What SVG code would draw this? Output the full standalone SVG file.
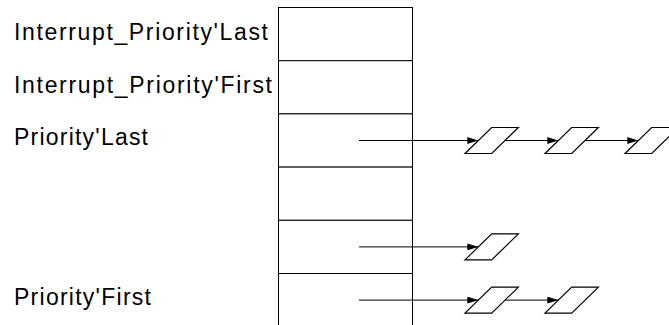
<svg xmlns="http://www.w3.org/2000/svg" width="669" height="325" viewBox="0 0 669 325">
  <style>
    .lbl { font-family: "Liberation Sans", Arial, sans-serif; font-size: 23px; fill: #000; }
    .cell { fill: #fff; stroke: #000; stroke-width: 1; }
    .node { fill: #fff; stroke: #000; stroke-width: 1.2; }
    .link { fill: none; stroke: #000; stroke-width: 1; marker-end: url(#head); }
  </style>
  <defs>
    <marker id="head" viewBox="0 0 11 7" refX="11" refY="3.5" markerWidth="11" markerHeight="7" markerUnits="userSpaceOnUse" orient="auto">
      <path d="M0,0 L11,3.5 L0,7 Z" fill="#000"/>
    </marker>
    <polygon id="elem" points="-26.7,13 0,13 26.7,-13 0,-13"/>
  </defs>

  <rect width="669" height="325" fill="#fff"/>

  <!-- priority table: six slots, bottom one runs off the page -->
  <g id="table">
    <rect class="cell" x="278.5" y="7.5" width="134" height="53.2"/>
    <rect class="cell" x="278.5" y="60.7" width="134" height="53.2"/>
    <rect class="cell" x="278.5" y="113.9" width="134" height="53.2"/>
    <rect class="cell" x="278.5" y="167.1" width="134" height="53.2"/>
    <rect class="cell" x="278.5" y="220.3" width="134" height="53.2"/>
    <rect class="cell" x="278.5" y="273.5" width="134" height="60"/>
  </g>

  <!-- slot labels -->
  <g id="labels">
    <text class="lbl" x="14" y="40" textLength="254" lengthAdjust="spacing">Interrupt_Priority'Last</text>
    <text class="lbl" x="14" y="93.3" textLength="258" lengthAdjust="spacing">Interrupt_Priority'First</text>
    <text class="lbl" x="14" y="145" textLength="134" lengthAdjust="spacing">Priority'Last</text>
    <text class="lbl" x="14" y="305" textLength="137" lengthAdjust="spacing">Priority'First</text>
  </g>

  <!-- queued elements -->
  <g id="q-last-1"><use href="#elem" class="node" x="491.7" y="140.5"/></g>
  <g id="q-last-2"><use href="#elem" class="node" x="571.7" y="140.5"/></g>
  <g id="q-last-3"><use href="#elem" class="node" x="651.7" y="140.5"/></g>
  <g id="q-mid-1"><use href="#elem" class="node" x="491.7" y="246.9"/></g>
  <g id="q-first-1"><use href="#elem" class="node" x="491.7" y="300.1"/></g>
  <g id="q-first-2"><use href="#elem" class="node" x="571.7" y="300.1"/></g>

  <!-- links -->
  <g id="connectors">
    <line class="link" x1="359" y1="140.5" x2="478.3" y2="140.5"/>
    <line class="link" x1="505" y1="140.5" x2="558.3" y2="140.5"/>
    <line class="link" x1="585" y1="140.5" x2="638.3" y2="140.5"/>
    <line class="link" x1="359" y1="246.9" x2="478.3" y2="246.9"/>
    <line class="link" x1="359" y1="300.1" x2="478.3" y2="300.1"/>
    <line class="link" x1="505" y1="300.1" x2="558.3" y2="300.1"/>
  </g>
</svg>
